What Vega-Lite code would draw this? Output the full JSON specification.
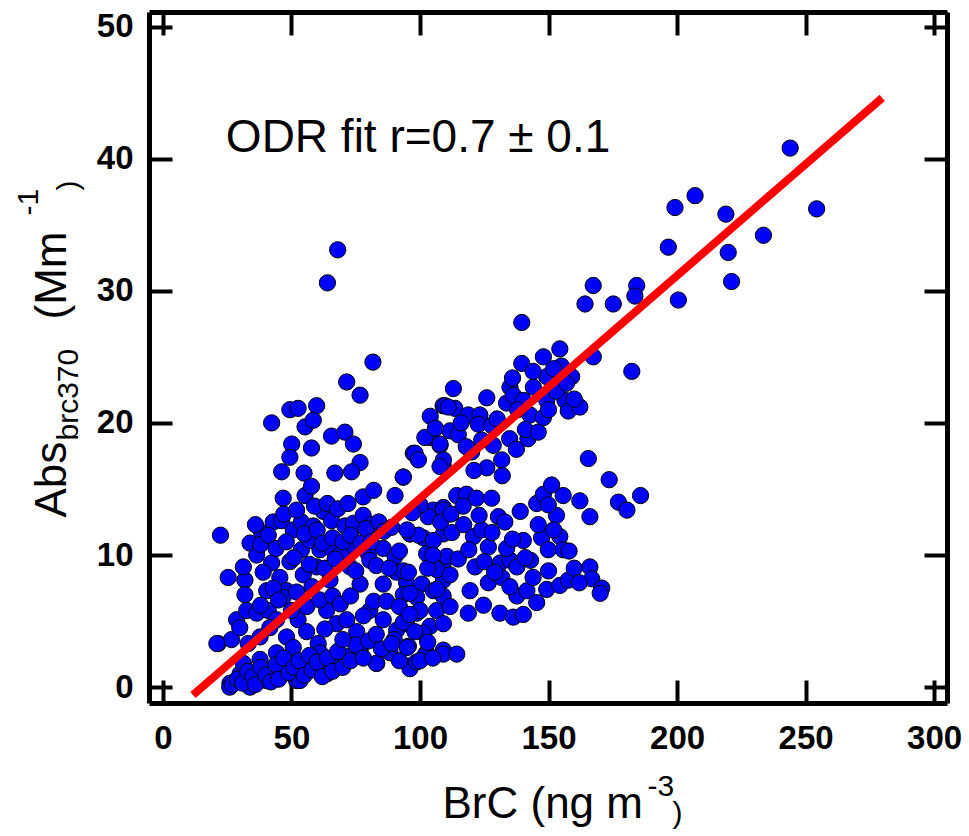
{
  "$schema": "https://vega.github.io/schema/vega-lite/v6.json",
  "width": 798,
  "height": 691,
  "autosize": "none",
  "padding": {"left": 149, "top": 12, "right": 22, "bottom": 133},
  "background": "white",
  "config": {
    "view": {"stroke": null},
    "axis": {"grid": false, "domainColor": "black", "domainWidth": 5, "tickColor": "black", "tickWidth": 4, "tickSize": -23, "labelFont": "Liberation Sans", "labelFontWeight": "bold", "labelFontSize": 33, "labelColor": "black", "labelFlush": false, "labelOverlap": false, "titleFont": "Liberation Sans", "titleFontWeight": "normal", "titleColor": "black", "titleAlign": "left", "titleBaseline": "alphabetic"}
  },
  "layer": [
    {
      "data": {"values": [
        {"brc":71.5,"abs":23.1},{"brc":76.7,"abs":22.1},{"brc":49.4,"abs":21.0},{"brc":52.6,"abs":21.1},{"brc":59.8,"abs":21.3},{"brc":42.3,"abs":20.0},{"brc":55.3,"abs":19.7},{"brc":58.5,"abs":20.2},{"brc":65.6,"abs":19.0},{"brc":70.8,"abs":19.3},{"brc":74.1,"abs":18.4},{"brc":76.7,"abs":17.0},{"brc":50.1,"abs":18.4},{"brc":57.8,"abs":18.1},{"brc":49.4,"abs":17.4},{"brc":46.2,"abs":16.3},{"brc":54.9,"abs":16.2},{"brc":66.9,"abs":16.2},{"brc":73.4,"abs":16.3},{"brc":46.8,"abs":14.3},{"brc":55.3,"abs":14.5},{"brc":57.8,"abs":15.2},{"brc":77.9,"abs":14.4},{"brc":82.0,"abs":14.9},{"brc":90.3,"abs":14.5},{"brc":93.5,"abs":15.9},{"brc":22.4,"abs":11.5},{"brc":62.4,"abs":13.3},{"brc":38.4,"abs":11.7},{"brc":42.9,"abs":12.5},{"brc":46.2,"abs":12.6},{"brc":50.7,"abs":11.9},{"brc":53.9,"abs":12.5},{"brc":58.5,"abs":12.2},{"brc":65.6,"abs":12.6},{"brc":70.8,"abs":12.2},{"brc":74.1,"abs":12.4},{"brc":77.9,"abs":13.0},{"brc":81.2,"abs":12.3},{"brc":33.9,"abs":10.9},{"brc":36.5,"abs":10.0},{"brc":42.3,"abs":9.4},{"brc":49.4,"abs":9.5},{"brc":53.9,"abs":10.4},{"brc":57.2,"abs":11.1},{"brc":61.1,"abs":10.4},{"brc":65.6,"abs":10.5},{"brc":69.5,"abs":10.1},{"brc":74.7,"abs":10.6},{"brc":79.9,"abs":10.1},{"brc":85.7,"abs":10.5},{"brc":90.3,"abs":9.9},{"brc":25.4,"abs":8.3},{"brc":31.9,"abs":8.1},{"brc":31.3,"abs":9.1},{"brc":39.0,"abs":8.7},{"brc":40.4,"abs":7.3},{"brc":45.5,"abs":8.3},{"brc":48.1,"abs":7.3},{"brc":54.6,"abs":8.5},{"brc":59.8,"abs":9.1},{"brc":65.0,"abs":8.1},{"brc":72.8,"abs":9.1},{"brc":76.7,"abs":7.8},{"brc":80.5,"abs":9.6},{"brc":85.7,"abs":7.8},{"brc":90.9,"abs":8.7},{"brc":94.8,"abs":7.9},{"brc":100.7,"abs":7.8},{"brc":105.2,"abs":7.3},{"brc":109.1,"abs":8.1},{"brc":31.9,"abs":7.0},{"brc":28.7,"abs":5.1},{"brc":32.6,"abs":5.8},{"brc":36.5,"abs":5.6},{"brc":41.0,"abs":5.8},{"brc":44.2,"abs":5.1},{"brc":46.8,"abs":6.8},{"brc":21.5,"abs":3.3},{"brc":26.7,"abs":3.6},{"brc":29.9,"abs":4.5},{"brc":33.2,"abs":3.3},{"brc":37.8,"abs":3.8},{"brc":41.6,"abs":4.5},{"brc":48.1,"abs":3.8},{"brc":52.6,"abs":5.1},{"brc":55.9,"abs":4.2},{"brc":60.4,"abs":3.3},{"brc":63.7,"abs":5.8},{"brc":67.6,"abs":4.8},{"brc":71.5,"abs":5.1},{"brc":75.4,"abs":4.2},{"brc":80.5,"abs":5.8},{"brc":85.7,"abs":5.1},{"brc":90.9,"abs":4.3},{"brc":94.8,"abs":4.8},{"brc":98.7,"abs":5.6},{"brc":103.9,"abs":4.6},{"brc":106.5,"abs":5.8},{"brc":26.1,"abs":0.3},{"brc":30.0,"abs":1.0},{"brc":33.9,"abs":0.5},{"brc":37.8,"abs":1.0},{"brc":41.6,"abs":1.3},{"brc":46.8,"abs":1.0},{"brc":31.3,"abs":1.8},{"brc":37.8,"abs":2.1},{"brc":44.2,"abs":2.6},{"brc":50.7,"abs":3.0},{"brc":55.9,"abs":1.8},{"brc":61.1,"abs":2.6},{"brc":66.3,"abs":1.6},{"brc":71.5,"abs":2.3},{"brc":76.7,"abs":2.8},{"brc":83.2,"abs":1.8},{"brc":88.4,"abs":2.6},{"brc":96.1,"abs":1.6},{"brc":102.6,"abs":2.6},{"brc":109.1,"abs":2.8},{"brc":26.0,"abs":0.0},{"brc":33.9,"abs":0.0},{"brc":40.4,"abs":0.5},{"brc":52.0,"abs":0.5},{"brc":53.3,"abs":0.5},{"brc":63.8,"abs":1.0},{"brc":83.0,"abs":1.8},{"brc":21.0,"abs":3.3},
        {"brc":109.0,"abs":21.3},{"brc":103.9,"abs":18.9},{"brc":107.8,"abs":18.3},{"brc":109.0,"abs":16.8},{"brc":97.4,"abs":17.7},{"brc":105.2,"abs":13.4},{"brc":109.1,"abs":13.6},{"brc":109.1,"abs":11.6},{"brc":101.3,"abs":11.3},{"brc":96.2,"abs":11.6},{"brc":102.6,"abs":10.1},{"brc":109.1,"abs":9.4},{"brc":106.5,"abs":8.9},{"brc":109.0,"abs":6.9},{"brc":98.7,"abs":6.8},{"brc":93.5,"abs":7.0},{"brc":64.0,"abs":30.6},{"brc":68.0,"abs":33.1},{"brc":81.7,"abs":24.6},
        {"brc":139.6,"abs":24.5},{"brc":148.0,"abs":25.0},{"brc":154.4,"abs":25.6},{"brc":167.4,"abs":25.0},{"brc":182.4,"abs":23.9},{"brc":155.0,"abs":24.3},{"brc":113.0,"abs":22.6},{"brc":135.0,"abs":22.7},{"brc":144.1,"abs":22.7},{"brc":149.3,"abs":23.5},{"brc":159.0,"abs":23.5},{"brc":109.7,"abs":21.3},{"brc":113.6,"abs":21.1},{"brc":118.8,"abs":20.6},{"brc":123.3,"abs":20.6},{"brc":122.7,"abs":19.9},{"brc":127.9,"abs":19.8},{"brc":133.7,"abs":21.5},{"brc":136.3,"abs":22.1},{"brc":140.2,"abs":21.7},{"brc":149.3,"abs":21.7},{"brc":142.8,"abs":20.6},{"brc":148.0,"abs":20.4},{"brc":156.4,"abs":21.7},{"brc":157.7,"abs":20.9},{"brc":162.2,"abs":21.2},{"brc":101.9,"abs":18.9},{"brc":107.8,"abs":18.4},{"brc":111.7,"abs":19.4},{"brc":114.9,"abs":19.1},{"brc":128.5,"abs":18.3},{"brc":134.9,"abs":18.8},{"brc":137.5,"abs":18.0},{"brc":142.0,"abs":18.8},{"brc":98.1,"abs":17.7},{"brc":99.4,"abs":17.2},{"brc":109.1,"abs":17.2},{"brc":107.8,"abs":16.7},{"brc":120.1,"abs":17.8},{"brc":126.0,"abs":16.6},{"brc":131.8,"abs":17.2},{"brc":93.5,"abs":15.9},{"brc":165.5,"abs":17.3},{"brc":173.6,"abs":15.7},{"brc":185.8,"abs":14.5},{"brc":177.2,"abs":14.0},{"brc":180.5,"abs":13.4},{"brc":114.3,"abs":14.5},{"brc":118.1,"abs":14.6},{"brc":122.0,"abs":14.3},{"brc":116.8,"abs":13.7},{"brc":109.1,"abs":13.4},{"brc":103.2,"abs":12.9},{"brc":100.0,"abs":13.8},{"brc":127.9,"abs":14.3},{"brc":130.5,"abs":12.9},{"brc":145.4,"abs":13.9},{"brc":148.0,"abs":14.6},{"brc":151.2,"abs":15.3},{"brc":155.7,"abs":14.5},{"brc":153.1,"abs":13.0},{"brc":149.9,"abs":13.8},{"brc":162.2,"abs":14.1},{"brc":166.1,"abs":12.9},{"brc":96.1,"abs":11.6},{"brc":99.4,"abs":11.5},{"brc":105.2,"abs":11.1},{"brc":112.4,"abs":11.7},{"brc":120.8,"abs":11.4},{"brc":124.0,"abs":11.9},{"brc":126.6,"abs":10.6},{"brc":140.2,"abs":11.1},{"brc":147.3,"abs":11.3},{"brc":154.4,"abs":11.4},{"brc":149.9,"abs":10.4},{"brc":155.7,"abs":10.4},{"brc":110.4,"abs":9.9},{"brc":114.9,"abs":9.7},{"brc":121.4,"abs":9.1},{"brc":131.2,"abs":9.4},{"brc":135.1,"abs":9.6},{"brc":137.7,"abs":9.1},{"brc":143.0,"abs":9.6},{"brc":133.7,"abs":10.5},{"brc":93.5,"abs":8.8},{"brc":95.5,"abs":8.7},{"brc":106.5,"abs":7.4},{"brc":111.7,"abs":8.5},{"brc":119.5,"abs":7.3},{"brc":126.6,"abs":7.9},{"brc":131.8,"abs":8.3},{"brc":137.7,"abs":6.9},{"brc":141.6,"abs":7.3},{"brc":149.3,"abs":7.4},{"brc":154.4,"abs":7.7},{"brc":157.7,"abs":8.1},{"brc":145.4,"abs":6.4},{"brc":166.1,"abs":9.1},{"brc":166.8,"abs":8.2},{"brc":170.7,"abs":7.5},{"brc":170.1,"abs":7.1},{"brc":96.1,"abs":7.1},{"brc":100.0,"abs":5.8},{"brc":111.7,"abs":6.1},{"brc":118.8,"abs":5.6},{"brc":124.7,"abs":6.2},{"brc":109.1,"abs":4.8},{"brc":93.5,"abs":4.9},{"brc":131.1,"abs":5.6},{"brc":136.3,"abs":5.3},{"brc":140.2,"abs":5.5},{"brc":101.3,"abs":4.1},{"brc":95.5,"abs":3.1},{"brc":101.9,"abs":2.4},{"brc":109.1,"abs":2.5},{"brc":114.3,"abs":2.5},{"brc":96.1,"abs":1.4},{"brc":98.7,"abs":1.9},
        {"brc":167.4,"abs":30.4},{"brc":184.3,"abs":30.4},{"brc":183.6,"abs":29.6},{"brc":164.2,"abs":29.0},{"brc":175.2,"abs":29.0},{"brc":200.5,"abs":29.3},{"brc":221.2,"abs":30.7},{"brc":139.6,"abs":27.6},{"brc":244.0,"abs":40.8},{"brc":207.0,"abs":37.2},{"brc":199.2,"abs":36.3},{"brc":219.0,"abs":35.8},{"brc":254.3,"abs":36.2},{"brc":196.6,"abs":33.3},{"brc":219.9,"abs":32.9},{"brc":233.6,"abs":34.2},
        {"brc":27,"abs":0.2},{"brc":29,"abs":0.6},{"brc":31,"abs":0.3},{"brc":33,"abs":1.2},{"brc":35,"abs":0.8},{"brc":36,"abs":0.2},{"brc":38,"abs":1.5},{"brc":40,"abs":0.9},{"brc":42,"abs":0.4},{"brc":44,"abs":1.7},{"brc":45,"abs":0.6},{"brc":47,"abs":2.2},{"brc":49,"abs":1.1},{"brc":51,"abs":1.5},{"brc":53,"abs":2.0},{"brc":55,"abs":0.9},{"brc":57,"abs":2.4},{"brc":58,"abs":1.3},{"brc":60,"abs":1.9},{"brc":62,"abs":0.8},{"brc":64,"abs":2.2},{"brc":66,"abs":1.2},{"brc":68,"abs":2.7},{"brc":70,"abs":1.5},{"brc":73,"abs":2.0},{"brc":75,"abs":3.2},{"brc":78,"abs":2.2},{"brc":80,"abs":3.5},{"brc":85,"abs":2.9},{"brc":90,"abs":3.6},{"brc":92,"abs":2.0},{"brc":95,"abs":3.0},{"brc":100,"abs":2.0},{"brc":103,"abs":3.4},{"brc":105,"abs":2.2},
        {"brc":36,"abs":12.3},{"brc":38,"abs":10.8},{"brc":41,"abs":11.5},{"brc":44,"abs":10.5},{"brc":47,"abs":13.1},{"brc":48,"abs":11.0},{"brc":51,"abs":9.8},{"brc":52,"abs":13.4},{"brc":55,"abs":11.6},{"brc":57,"abs":9.3},{"brc":59,"abs":13.7},{"brc":60,"abs":11.9},{"brc":62,"abs":10.9},{"brc":63,"abs":9.0},{"brc":64,"abs":13.9},{"brc":66,"abs":11.3},{"brc":67,"abs":9.7},{"brc":68,"abs":13.5},{"brc":70,"abs":11.0},{"brc":72,"abs":13.9},{"brc":73,"abs":11.5},{"brc":75,"abs":8.8},{"brc":77,"abs":10.9},{"brc":79,"abs":12.0},{"brc":81,"abs":11.0},{"brc":83,"abs":9.2},{"brc":84,"abs":12.5},{"brc":86,"abs":11.8},{"brc":88,"abs":9.0},{"brc":89,"abs":12.1},{"brc":92,"abs":10.3},{"brc":95,"abs":11.9},{"brc":97,"abs":13.2},
        {"brc":38,"abs":6.2},{"brc":43,"abs":7.5},{"brc":45,"abs":6.6},{"brc":50,"abs":5.8},{"brc":52,"abs":7.2},{"brc":56,"abs":6.1},{"brc":58,"abs":7.6},{"brc":61,"abs":6.6},{"brc":63,"abs":4.4},{"brc":66,"abs":6.9},{"brc":69,"abs":6.3},{"brc":70,"abs":3.6},{"brc":73,"abs":6.9},{"brc":78,"abs":5.4},{"brc":82,"abs":6.5},{"brc":83,"abs":4.0},{"brc":87,"abs":6.5},{"brc":89,"abs":3.3},{"brc":92,"abs":6.1},{"brc":96,"abs":5.5},{"brc":98,"abs":4.2},
        {"brc":103,"abs":9.0},{"brc":105,"abs":10.0},{"brc":108,"abs":12.5},{"brc":112,"abs":13.1},{"brc":117,"abs":12.3},{"brc":119,"abs":10.4},{"brc":123,"abs":13.0},{"brc":125,"abs":9.5},{"brc":128,"abs":11.7},{"brc":129,"abs":8.7},{"brc":133,"abs":12.5},{"brc":135,"abs":7.6},{"brc":136,"abs":11.2},{"brc":139,"abs":13.3},{"brc":141,"abs":9.8},{"brc":144,"abs":8.3},{"brc":146,"abs":12.3},{"brc":150,"abs":8.8},{"brc":152,"abs":11.9},{"brc":158,"abs":10.3},{"brc":160,"abs":9.0},{"brc":162,"abs":7.9},
        {"brc":104,"abs":20.5},{"brc":106,"abs":19.6},{"brc":111,"abs":21.2},{"brc":116,"abs":20.0},{"brc":118,"abs":18.2},{"brc":121,"abs":16.4},{"brc":124,"abs":18.7},{"brc":126,"abs":21.9},{"brc":130,"abs":20.3},{"brc":132,"abs":16.0},{"brc":136,"abs":23.4},{"brc":138,"abs":21.0},{"brc":141,"abs":19.5},{"brc":144,"abs":23.9},{"brc":146,"abs":19.3},{"brc":150,"abs":21.0},{"brc":152,"abs":24.1},{"brc":153,"abs":22.4},{"brc":157,"abs":23.0},{"brc":160,"abs":21.8}
      ]},
      "mark": {"type": "point", "shape": "circle", "filled": true, "fill": "#0000ff", "stroke": "black", "strokeWidth": 1, "size": 265, "opacity": 1},
      "encoding": {
        "x": {"field": "brc", "type": "quantitative", "scale": {"domain": [-5.4, 305], "nice": false, "zero": false},
          "axis": {"orient": "bottom", "values": [0, 50, 100, 150, 200, 250, 300], "labelPadding": 42, "title": "BrC (ng m", "titleFontSize": 44, "titleX": 293, "titleY": 114}},
        "y": {"field": "abs", "type": "quantitative", "scale": {"domain": [-1.2, 51.1], "nice": false, "zero": false},
          "axis": {"orient": "left", "values": [0, 10, 20, 30, 40, 50], "labelPadding": 39, "title": "Abs\u00a0\u00a0\u00a0\u00a0\u00a0\u00a0\u00a0\u00a0\u00a0\u00a0(Mm", "titleFontSize": 44, "titleAngle": -90, "titleX": -84, "titleY": 505}}
      }
    },
    {
      "data": {"values": [{"brc": 11.7, "abs": -0.6}, {"brc": 279.8, "abs": 44.6}]},
      "mark": {"type": "line", "color": "#ff0000", "strokeWidth": 8, "strokeCap": "butt"},
      "encoding": {
        "x": {"field": "brc", "type": "quantitative", "scale": {"domain": [-5.4, 305], "nice": false, "zero": false},
          "axis": {"orient": "top", "values": [0, 50, 100, 150, 200, 250, 300], "labels": false, "title": ["-3", "\u200b\u00a0\u00a0\u00a0)"], "titleFontSize": 30, "titleLineHeight": 27, "titleX": 498, "titleY": 783}},
        "y": {"field": "abs", "type": "quantitative", "scale": {"domain": [-1.2, 51.1], "nice": false, "zero": false},
          "axis": {"orient": "right", "values": [0, 10, 20, 30, 40, 50], "labels": false, "title": ["\u200b\u00a0\u00a0\u00a0\u00a0\u00a0\u00a0\u00a0\u00a0\u00a0\u00a0\u00a0\u00a0\u00a0\u00a0\u00a0\u00a0\u00a0\u00a0\u00a0\u00a0\u00a0\u00a0\u00a0\u00a0\u00a0\u00a0\u00a0-1", "brc370\u00a0\u00a0\u00a0\u00a0\u00a0\u00a0\u00a0\u00a0\u00a0\u00a0\u00a0\u00a0\u00a0\u00a0\u00a0\u00a0\u00a0\u00a0\u00a0)"], "titleFontSize": 30, "titleLineHeight": 40, "titleAngle": -90, "titleX": -910, "titleY": 428}}
      }
    },
    {
      "data": {"values": [{"label": "ODR fit r=0.7 \u00b1 0.1"}]},
      "mark": {"type": "text", "align": "left", "baseline": "alphabetic", "fontSize": 46, "font": "Liberation Sans", "color": "black"},
      "encoding": {
        "x": {"datum": 24.5, "type": "quantitative", "axis": null},
        "y": {"datum": 40.5, "type": "quantitative", "axis": null},
        "text": {"field": "label"}
      }
    }
  ],
  "resolve": {"axis": {"x": "independent", "y": "independent"}}
}
